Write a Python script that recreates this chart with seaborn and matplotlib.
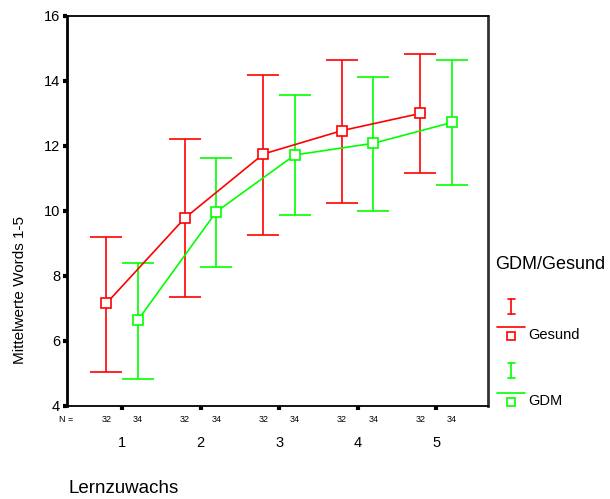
import matplotlib
matplotlib.use("Agg")
import matplotlib.pyplot as plt
import seaborn as sns
import numpy as np
import pandas as pd
from matplotlib.lines import Line2D

# ---- data ----
categories = [1, 2, 3, 4, 5]
groups = ["Gesund", "GDM"]
gesund_mean = [7.15, 9.78, 11.75, 12.47, 13.00]
gesund_low = [5.04, 7.35, 9.26, 10.25, 11.17]
gesund_high = [9.19, 12.20, 14.18, 14.65, 14.84]
gdm_mean = [6.63, 9.97, 11.72, 12.08, 12.72]
gdm_low = [4.83, 8.27, 9.88, 9.98, 10.78]
gdm_high = [8.40, 11.63, 13.58, 14.13, 14.63]
n_labels = {"Gesund": "32", "GDM": "34"}
colors = {"Gesund": "#FF0000", "GDM": "#00FF00"}
offsets = {"Gesund": -0.2, "GDM": 0.2}

rows = []
for g, m, lo, hi in [("Gesund", gesund_mean, gesund_low, gesund_high),
                     ("GDM", gdm_mean, gdm_low, gdm_high)]:
    for c, mv, lv, hv in zip(categories, m, lo, hi):
        rows.append(dict(group=g, cat=c, x=c + offsets[g], mean=mv, low=lv, high=hv))
df = pd.DataFrame(rows)

sns.set_theme(style="white")
plt.rcParams["font.family"] = ["Liberation Sans", "DejaVu Sans"]
plt.rcParams["text.color"] = "black"
plt.rcParams["xtick.color"] = "black"
plt.rcParams["ytick.color"] = "black"
plt.rcParams["xtick.labelcolor"] = "black"
plt.rcParams["ytick.labelcolor"] = "black"

fig = plt.figure(figsize=(6.10, 4.99), dpi=100)
ax = fig.add_axes([0.110, 0.187, 0.690, 0.781])

for g in groups:
    d = df[df.group == g]
    col = colors[g]
    ax.errorbar(d["x"], d["mean"], yerr=[d["mean"] - d["low"], d["high"] - d["mean"]],
                fmt="none", ecolor=col, color=col, elinewidth=1.2, capsize=11.5,
                capthick=1.2, zorder=2)

sns.lineplot(data=df, x="x", y="mean", hue="group", hue_order=groups,
             palette=colors, marker="s", markersize=7, markerfacecolor="white",
             markeredgewidth=1.2, linewidth=1.2, ax=ax, legend=False,
             estimator=None, sort=True, zorder=3)
for ln in ax.get_lines():
    c = ln.get_color()
    ln.set_markeredgecolor(c)
    ln.set_markerfacecolor("white")

ax.set_xlim(0.30, 5.66)
ax.set_ylim(4, 16)
ax.set_yticks([4, 6, 8, 10, 12, 14, 16])
ax.set_xticks(categories)
ax.set_xticklabels([str(c) for c in categories], fontsize=10.5)
ax.tick_params(axis="x", pad=19, length=3, width=3, direction="out", color="black", bottom=True)
ax.tick_params(axis="y", labelsize=10.5, length=3, width=3, direction="out", color="black", left=True, pad=2)
ax.set_xlabel("")
ax.set_ylabel("")
fig.text(0.032, 0.419, "Mittelwerte Words 1-5", rotation=90, ha="center", va="center", fontsize=11)
for s in ax.spines.values():
    s.set_color("black")
    s.set_linewidth(1.3)
ax.spines["right"].set_color("#333333")
ax.spines["right"].set_linewidth(2)
ax.spines["left"].set_linewidth(2)

# N row
trans = ax.get_xaxis_transform()
ax.text(-0.02, -0.035, "N =", transform=ax.transAxes, fontsize=6.5, ha="left", va="center")
for g in groups:
    for c in categories:
        ax.text(c + offsets[g], -0.035, n_labels[g], transform=trans, fontsize=6.5, ha="center", va="center")

fig.text(0.112, 0.022, "Lernzuwachs", fontsize=13.5, ha="left", va="center")

# legend
fig.text(0.812, 0.469, "GDM/Gesund", fontsize=13, ha="left", va="center")
def leg_entry(ycap_top, yline, col, label):
    xc = 0.838
    tf = fig.transFigure
    fig.add_artist(Line2D([xc, xc], [ycap_top, ycap_top - 0.030], color=col, lw=1.2, transform=tf))
    fig.add_artist(Line2D([xc - 0.006, xc + 0.006], [ycap_top, ycap_top], color=col, lw=1.2, transform=tf))
    fig.add_artist(Line2D([xc - 0.006, xc + 0.006], [ycap_top - 0.030, ycap_top - 0.030], color=col, lw=1.2, transform=tf))
    fig.add_artist(Line2D([0.815, 0.861], [yline, yline], color=col, lw=1.2, transform=tf))
    fig.add_artist(Line2D([xc], [yline - 0.018], color=col, marker="s", markersize=5.5,
                          markerfacecolor="white", markeredgewidth=1.2, linestyle="none", transform=tf))
    fig.text(0.866, yline - 0.016, label, fontsize=10.5, ha="left", va="center")

leg_entry(0.401, 0.345, colors["Gesund"], "Gesund")
leg_entry(0.273, 0.212, colors["GDM"], "GDM")

fig.savefig("out.png", dpi=100, facecolor="white")
